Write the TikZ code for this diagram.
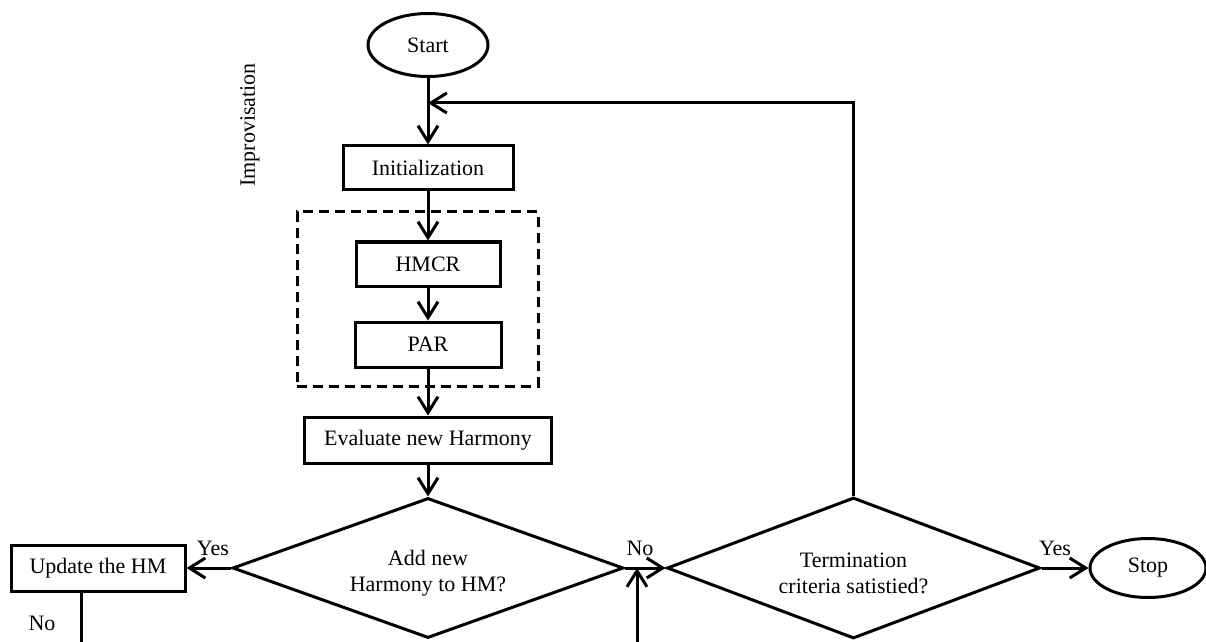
\documentclass[tikz,border=0pt]{standalone}
\usepackage{fontspec}
\setmainfont{Liberation Serif}
\usepackage{tikz}
\usetikzlibrary{shapes.geometric, arrows.meta, positioning, calc}

\tikzset{
  flowbox/.style={draw, line width=1.5pt, rectangle, inner sep=0pt, font=\fontsize{11}{13}\selectfont},
  endpoint/.style={draw, line width=1.5pt, ellipse, inner sep=0pt, font=\fontsize{11}{13}\selectfont},
  decision/.style={draw, line width=1.5pt, diamond, aspect=2.7, inner sep=0pt, align=center, text height=26pt, font=\fontsize{11}{13}\selectfont},
  dashbox/.style={draw, line width=1.5pt, dash pattern=on 5pt off 3pt, rectangle, inner sep=0pt},
  flow/.style={line width=1.5pt, -{Straight Barb[length=8pt, width=10pt, line width=1.5pt]}},
  plain/.style={line width=1.5pt},
  lbl/.style={font=\fontsize{11}{13}\selectfont, inner sep=0pt}
}

\begin{document}
\begin{tikzpicture}[x=0.5pt, y=-0.5pt]
  \useasboundingbox (0,0) rectangle (1206,642);

  % Main column
  \node[endpoint, minimum width=60pt, minimum height=31.5pt] (start) at (428,45) {Start};
  \node[flowbox, minimum width=85pt, minimum height=22pt] (init) at (428,168) {Initialization};
  \node[dashbox, minimum width=120.5pt, minimum height=87pt] (improv) at (417.5,299) {};
  \node[flowbox, minimum width=72pt, minimum height=22pt] (hmcr) at (428,264) {HMCR};
  \node[flowbox, minimum width=73pt, minimum height=22.5pt] (par) at (428,344.5) {PAR};
  \node[flowbox, minimum width=123.5pt, minimum height=23pt] (eval) at (428,440) {Evaluate new Harmony};
  \node[lbl, rotate=90] (improvlbl) at (250,125) {Improvisation};

  % Decisions
  \node[decision, minimum width=195.5pt, minimum height=70pt] (addhm) at (428,568) {Add new\\Harmony to HM?};
  \node[decision, minimum width=186.5pt, minimum height=70.5pt] (term) at (853.5,568) {Termination\\criteria satistied?};

  % Side boxes
  \node[flowbox, minimum width=87pt, minimum height=23pt] (update) at (98,568) {Update the HM};
  \node[endpoint, minimum width=58pt, minimum height=29.5pt] (stop) at (1148,568) {Stop};

  % Labels
  \node[lbl] (yesleft) at (213,548) {Yes};
  \node[lbl] (noleft) at (42,623) {No};
  \node[lbl] (nomid) at (640,548) {No};
  \node[lbl] (yesright) at (1055,548) {Yes};

  % Loose ends and joints
  \coordinate (back) at (428,103);
  \coordinate (updend) at (81,642);
  \coordinate (loopin) at (637,642);

  % Connectors
  \draw[flow] (start.south) -- (init.north);
  \draw[flow] (init.south) -- (hmcr.north);
  \draw[flow] (hmcr.south) -- (par.north);
  \draw[flow] (par.south) -- (eval.north);
  \draw[flow] (eval.south) -- (addhm.north);
  \draw[flow] (addhm.west) -- (update.east);
  \draw[plain] (update.south -| updend) -- (updend);
  \draw[flow] (addhm.east) -- (term.west);
  \draw[flow] (loopin) -- (loopin |- addhm.east);
  \draw[flow] (term.east) -- (stop.west);
  \draw[flow] (term.north) |- (back);
\end{tikzpicture}
\end{document}
